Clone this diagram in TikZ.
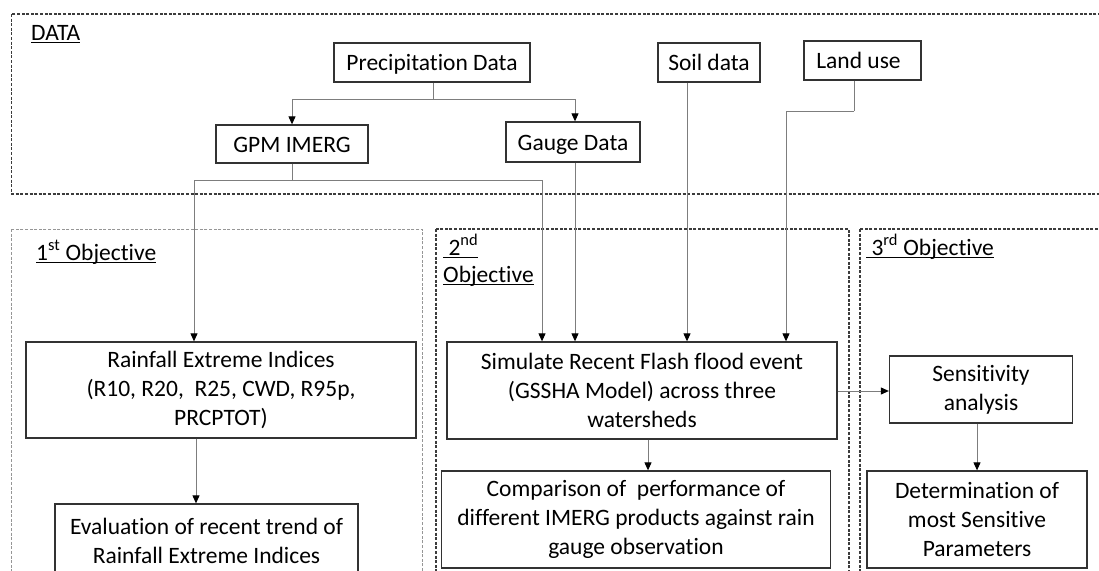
\documentclass[tikz,border=0pt]{standalone}
\usepackage{fontspec}
\setmainfont{Carlito}[Ligatures=NoCommon]
\usetikzlibrary{arrows.meta,calc}
\newcommand{\myul}[1]{\leavevmode\setbox0\hbox{#1}\rlap{\rule[-3pt]{\wd0}{1.2pt}}\box0}
\definecolor{boxline}{RGB}{50,50,50}
\definecolor{connline}{RGB}{125,125,125}
\definecolor{darkdash}{RGB}{60,60,60}
\definecolor{lightdash}{RGB}{150,150,150}
\tikzset{
  stepbox/.style={draw=boxline, line width=1.3pt, fill=white, align=center, inner sep=2pt,
    font=\fontsize{23.5}{29}\selectfont},
  onebox/.style={stepbox, text height=18pt, text depth=2pt},
  conn/.style={draw=connline, line width=1pt},
  arr/.style={conn, -{Triangle[length=8pt,width=7pt,color=black]}},
  darkframe/.style={draw=darkdash, line width=1.1pt, dash pattern=on 3pt off 1.6pt},
  lightframe/.style={draw=lightdash, line width=0.8pt, dash pattern=on 3pt off 1.6pt},
  lbl/.style={inner sep=0pt, anchor=base west, font=\fontsize{23.5}{29}\selectfont},
}
\begin{document}
\begin{tikzpicture}[x=1pt,y=-1pt]
\useasboundingbox[fill=white] (0,0) rectangle (1099,570);
\clip (0,0) rectangle (1099,570);

% frames
\draw[darkframe] (11.7,14) rectangle (1110,194);
\draw[lightframe] (11,229) rectangle (422,620);
\draw[darkframe] (436,229) rectangle (849,620);
\draw[darkframe] (860,229) rectangle (1110,620);

% labels
\node[lbl] (ldata) at (31,40) {\myul{DATA}};
\node[lbl] (lobj1) at (36,260) {\myul{1\textsuperscript{st} Objective}};
\node[lbl] (lobj2a) at (443,255) {\myul{\ 2\textsuperscript{nd}}};
\node[lbl] (lobj2b) at (443,282) {\myul{Objective}};
\node[lbl] (lobj3) at (866,255) {\myul{\ 3\textsuperscript{rd} Objective}};

% data boxes
\node[onebox, minimum width=196pt, minimum height=39pt] (precip) at (432,62.5) {Precipitation Data};
\node[onebox, minimum width=152pt, minimum height=38pt] (gpm) at (292,144) {GPM IMERG};
\node[onebox, minimum width=134pt, minimum height=40pt] (gauge) at (573,142) {Gauge Data};
\node[onebox, minimum width=102pt, minimum height=39pt] (soil) at (709,62.5) {Soil data};
\node[onebox, minimum width=117pt, minimum height=39pt] (land) at (862.5,60.5) {Land use\hspace{8pt}};

% objective boxes
\node[stepbox, minimum width=390pt, minimum height=96pt] (rain) at (221,390)
  {Rainfall Extreme Indices\\(R10, R20,~ R25, CWD, R95p,\\PRCPTOT)};
\node[stepbox, minimum width=303pt, minimum height=73pt] (eval) at (206.5,540.5)
  {Evaluation of recent trend of\\Rainfall Extreme Indices};
\node[stepbox, minimum width=390pt, minimum height=97pt] (sim) at (642,390.5)
  {Simulate Recent Flash flood event\\(GSSHA Model) across three\\watersheds};
\node[stepbox, minimum width=389.5pt, minimum height=97pt] (comp) at (636,519.5)
  {Comparison of~ performance of\\different IMERG products against rain\\gauge observation};
\node[stepbox, minimum width=183pt, minimum height=67pt] (sens) at (981,389.5)
  {Sensitivity\\analysis};
\node[stepbox, minimum width=220pt, minimum height=97pt] (det) at (977,519.5)
  {Determination of\\most Sensitive\\Parameters};

% helper coordinates
\coordinate (pj) at (433,99);
\coordinate (gj) at (292,180);
\coordinate (xa) at (194,0);
\coordinate (xb) at (542,0);
\coordinate (xc) at (575,0);
\coordinate (xd) at (687,0);
\coordinate (lj) at (854,111);
\coordinate (xe) at (786,0);
\coordinate (xf) at (196,0);
\coordinate (xg) at (648,0);
\coordinate (xh) at (977,0);
\coordinate (yk) at (0,391);

% connectors
\draw[conn] (precip.south -| pj) -- (pj);
\draw[arr] (pj) -| (gpm.north);
\draw[arr] (pj) -| (gauge.north -| xc);
\draw[conn] (gpm.south) -- (gj);
\draw[arr] (gj) -| (rain.north -| xa);
\draw[arr] (gj) -| (sim.north -| xb);
\draw[arr] (gauge.south -| xc) -- (sim.north -| xc);
\draw[arr] (soil.south -| xd) -- (sim.north -| xd);
\draw[conn] (land.south -| lj) -- (lj);
\draw[arr] (lj) -| (sim.north -| xe);
\draw[arr] (rain.south -| xf) -- (eval.north -| xf);
\draw[arr] (sim.south -| xg) -- (comp.north -| xg);
\draw[arr] (sim.east |- yk) -- (sens.west |- yk);
\draw[arr] (sens.south -| xh) -- (det.north -| xh);
\end{tikzpicture}
\end{document}
